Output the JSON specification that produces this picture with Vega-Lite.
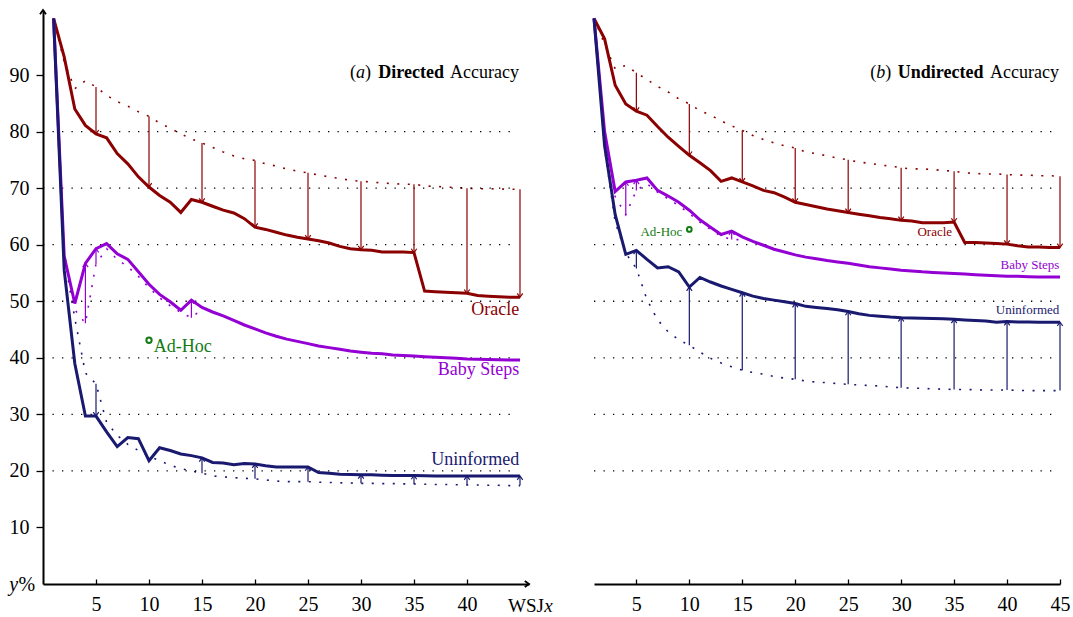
{
  "$schema": "https://vega.github.io/schema/vega-lite/v6.json",
  "padding": {"left": 9, "top": 6, "right": 4, "bottom": 4},
  "spacing": 65,
  "bounds": "flush",
  "config": {
    "view": {"stroke": null},
    "font": "Liberation Serif",
    "text": {"font": "Liberation Serif"},
    "axis": {"domainColor": "black", "domainWidth": 2, "tickColor": "black", "tickWidth": 1.3, "labelColor": "black", "labelFont": "Liberation Serif", "labelFontSize": 20, "grid": false, "labelFlush": false, "labelOverlap": false, "title": null}
  },
  "datasets": {
    "grid": [{"y": 20}, {"y": 30}, {"y": 40}, {"y": 50}, {"y": 60}, {"y": 70}, {"y": 80}],
    "adhocL": [{"x": 10, "y": 43.1}],
    "adhocR": [{"x": 10, "y": 62.7}],
    "lineL": [
      {"s":"Oracle","x":1,"y":100},{"s":"Oracle","x":2,"y":93.2},{"s":"Oracle","x":3,"y":84.0},{"s":"Oracle","x":4,"y":81.1},{"s":"Oracle","x":5,"y":79.6},{"s":"Oracle","x":6,"y":78.9},{"s":"Oracle","x":7,"y":76.1},{"s":"Oracle","x":8,"y":74.3},{"s":"Oracle","x":9,"y":72.0},{"s":"Oracle","x":10,"y":70.2},{"s":"Oracle","x":11,"y":68.7},{"s":"Oracle","x":12,"y":67.5},{"s":"Oracle","x":13,"y":65.7},{"s":"Oracle","x":14,"y":68.0},{"s":"Oracle","x":15,"y":67.5},{"s":"Oracle","x":16,"y":66.8},{"s":"Oracle","x":17,"y":66.1},{"s":"Oracle","x":18,"y":65.6},{"s":"Oracle","x":19,"y":64.6},{"s":"Oracle","x":20,"y":63.1},{"s":"Oracle","x":21,"y":62.7},{"s":"Oracle","x":22,"y":62.2},{"s":"Oracle","x":23,"y":61.7},{"s":"Oracle","x":24,"y":61.3},{"s":"Oracle","x":25,"y":61.0},{"s":"Oracle","x":26,"y":60.7},{"s":"Oracle","x":27,"y":60.3},{"s":"Oracle","x":28,"y":59.7},{"s":"Oracle","x":29,"y":59.3},{"s":"Oracle","x":30,"y":59.1},{"s":"Oracle","x":31,"y":59.0},{"s":"Oracle","x":32,"y":58.7},{"s":"Oracle","x":33,"y":58.7},{"s":"Oracle","x":34,"y":58.7},{"s":"Oracle","x":35,"y":58.6},{"s":"Oracle","x":36,"y":51.8},{"s":"Oracle","x":37,"y":51.7},{"s":"Oracle","x":38,"y":51.6},{"s":"Oracle","x":39,"y":51.5},{"s":"Oracle","x":40,"y":51.4},{"s":"Oracle","x":41,"y":51.0},{"s":"Oracle","x":42,"y":50.9},{"s":"Oracle","x":43,"y":50.8},{"s":"Oracle","x":44,"y":50.7},{"s":"Oracle","x":45,"y":50.7},
      {"s":"Baby Steps","x":1,"y":100},{"s":"Baby Steps","x":2,"y":58.0},{"s":"Baby Steps","x":3,"y":49.6},{"s":"Baby Steps","x":4,"y":56.7},{"s":"Baby Steps","x":5,"y":59.3},{"s":"Baby Steps","x":6,"y":60.2},{"s":"Baby Steps","x":7,"y":58.4},{"s":"Baby Steps","x":8,"y":57.4},{"s":"Baby Steps","x":9,"y":55.2},{"s":"Baby Steps","x":10,"y":53.0},{"s":"Baby Steps","x":11,"y":51.2},{"s":"Baby Steps","x":12,"y":49.9},{"s":"Baby Steps","x":13,"y":48.4},{"s":"Baby Steps","x":14,"y":50.2},{"s":"Baby Steps","x":15,"y":48.9},{"s":"Baby Steps","x":16,"y":48.1},{"s":"Baby Steps","x":17,"y":47.4},{"s":"Baby Steps","x":18,"y":46.6},{"s":"Baby Steps","x":19,"y":45.8},{"s":"Baby Steps","x":20,"y":45.1},{"s":"Baby Steps","x":21,"y":44.4},{"s":"Baby Steps","x":22,"y":43.8},{"s":"Baby Steps","x":23,"y":43.3},{"s":"Baby Steps","x":24,"y":42.9},{"s":"Baby Steps","x":25,"y":42.5},{"s":"Baby Steps","x":26,"y":42.1},{"s":"Baby Steps","x":27,"y":41.8},{"s":"Baby Steps","x":28,"y":41.5},{"s":"Baby Steps","x":29,"y":41.2},{"s":"Baby Steps","x":30,"y":41.0},{"s":"Baby Steps","x":31,"y":40.8},{"s":"Baby Steps","x":32,"y":40.7},{"s":"Baby Steps","x":33,"y":40.5},{"s":"Baby Steps","x":34,"y":40.4},{"s":"Baby Steps","x":35,"y":40.3},{"s":"Baby Steps","x":36,"y":40.2},{"s":"Baby Steps","x":37,"y":40.1},{"s":"Baby Steps","x":38,"y":40.0},{"s":"Baby Steps","x":39,"y":39.9},{"s":"Baby Steps","x":40,"y":39.8},{"s":"Baby Steps","x":41,"y":39.75},{"s":"Baby Steps","x":42,"y":39.7},{"s":"Baby Steps","x":43,"y":39.65},{"s":"Baby Steps","x":44,"y":39.6},{"s":"Baby Steps","x":45,"y":39.6},
      {"s":"Uninformed","x":1,"y":100},{"s":"Uninformed","x":2,"y":55.5},{"s":"Uninformed","x":3,"y":39.0},{"s":"Uninformed","x":4,"y":29.7},{"s":"Uninformed","x":5,"y":29.7},{"s":"Uninformed","x":6,"y":26.9},{"s":"Uninformed","x":7,"y":24.3},{"s":"Uninformed","x":8,"y":25.9},{"s":"Uninformed","x":9,"y":25.7},{"s":"Uninformed","x":10,"y":21.8},{"s":"Uninformed","x":11,"y":24.1},{"s":"Uninformed","x":12,"y":23.6},{"s":"Uninformed","x":13,"y":23.0},{"s":"Uninformed","x":14,"y":22.7},{"s":"Uninformed","x":15,"y":22.3},{"s":"Uninformed","x":16,"y":21.5},{"s":"Uninformed","x":17,"y":21.4},{"s":"Uninformed","x":18,"y":21.1},{"s":"Uninformed","x":19,"y":21.3},{"s":"Uninformed","x":20,"y":21.2},{"s":"Uninformed","x":21,"y":20.9},{"s":"Uninformed","x":22,"y":20.7},{"s":"Uninformed","x":23,"y":20.7},{"s":"Uninformed","x":24,"y":20.7},{"s":"Uninformed","x":25,"y":20.7},{"s":"Uninformed","x":26,"y":19.7},{"s":"Uninformed","x":27,"y":19.6},{"s":"Uninformed","x":28,"y":19.4},{"s":"Uninformed","x":29,"y":19.35},{"s":"Uninformed","x":30,"y":19.3},{"s":"Uninformed","x":31,"y":19.3},{"s":"Uninformed","x":32,"y":19.25},{"s":"Uninformed","x":33,"y":19.2},{"s":"Uninformed","x":34,"y":19.2},{"s":"Uninformed","x":35,"y":19.2},{"s":"Uninformed","x":36,"y":19.15},{"s":"Uninformed","x":37,"y":19.1},{"s":"Uninformed","x":38,"y":19.1},{"s":"Uninformed","x":39,"y":19.1},{"s":"Uninformed","x":40,"y":19.1},{"s":"Uninformed","x":41,"y":19.1},{"s":"Uninformed","x":42,"y":19.1},{"s":"Uninformed","x":43,"y":19.1},{"s":"Uninformed","x":44,"y":19.1},{"s":"Uninformed","x":45,"y":19.1}
    ],
    "dotL": [
      {"s":"Oracle","x":1,"y":100},{"s":"Oracle","x":2,"y":92.3},{"s":"Oracle","x":3,"y":87.6},{"s":"Oracle","x":4,"y":89.0},{"s":"Oracle","x":5,"y":87.9},{"s":"Oracle","x":6,"y":86.4},{"s":"Oracle","x":7,"y":85.3},{"s":"Oracle","x":8,"y":84.5},{"s":"Oracle","x":9,"y":83.5},{"s":"Oracle","x":10,"y":82.7},{"s":"Oracle","x":11,"y":81.5},{"s":"Oracle","x":12,"y":80.6},{"s":"Oracle","x":13,"y":79.6},{"s":"Oracle","x":14,"y":78.7},{"s":"Oracle","x":15,"y":78.0},{"s":"Oracle","x":16,"y":77.2},{"s":"Oracle","x":17,"y":76.4},{"s":"Oracle","x":18,"y":75.7},{"s":"Oracle","x":19,"y":75.2},{"s":"Oracle","x":20,"y":74.9},{"s":"Oracle","x":21,"y":74.3},{"s":"Oracle","x":22,"y":73.9},{"s":"Oracle","x":23,"y":73.4},{"s":"Oracle","x":24,"y":73.0},{"s":"Oracle","x":25,"y":72.7},{"s":"Oracle","x":26,"y":72.3},{"s":"Oracle","x":27,"y":72.0},{"s":"Oracle","x":28,"y":71.7},{"s":"Oracle","x":29,"y":71.4},{"s":"Oracle","x":30,"y":71.2},{"s":"Oracle","x":31,"y":71.1},{"s":"Oracle","x":32,"y":70.9},{"s":"Oracle","x":33,"y":70.8},{"s":"Oracle","x":34,"y":70.7},{"s":"Oracle","x":35,"y":70.7},{"s":"Oracle","x":36,"y":70.4},{"s":"Oracle","x":37,"y":70.3},{"s":"Oracle","x":38,"y":70.2},{"s":"Oracle","x":39,"y":70.1},{"s":"Oracle","x":40,"y":70.0},{"s":"Oracle","x":41,"y":69.9},{"s":"Oracle","x":42,"y":69.9},{"s":"Oracle","x":43,"y":69.85},{"s":"Oracle","x":44,"y":69.8},{"s":"Oracle","x":45,"y":69.8},
      {"s":"Baby Steps","x":1,"y":100},{"s":"Baby Steps","x":2,"y":58.5},{"s":"Baby Steps","x":3,"y":48.5},{"s":"Baby Steps","x":4,"y":46.1},{"s":"Baby Steps","x":5,"y":56.6},{"s":"Baby Steps","x":6,"y":59.3},{"s":"Baby Steps","x":7,"y":57.4},{"s":"Baby Steps","x":8,"y":56.1},{"s":"Baby Steps","x":9,"y":54.4},{"s":"Baby Steps","x":10,"y":52.4},{"s":"Baby Steps","x":11,"y":50.6},{"s":"Baby Steps","x":12,"y":49.2},{"s":"Baby Steps","x":13,"y":48.0},{"s":"Baby Steps","x":14,"y":47.1},{"s":"Baby Steps","x":15,"y":48.6},
      {"s":"Uninformed","x":1,"y":100},{"s":"Uninformed","x":2,"y":58.0},{"s":"Uninformed","x":3,"y":47.0},{"s":"Uninformed","x":4,"y":37.3},{"s":"Uninformed","x":5,"y":35.4},{"s":"Uninformed","x":6,"y":28.6},{"s":"Uninformed","x":7,"y":26.3},{"s":"Uninformed","x":8,"y":24.7},{"s":"Uninformed","x":9,"y":23.6},{"s":"Uninformed","x":10,"y":22.6},{"s":"Uninformed","x":11,"y":21.8},{"s":"Uninformed","x":12,"y":21.0},{"s":"Uninformed","x":13,"y":20.4},{"s":"Uninformed","x":14,"y":20.0},{"s":"Uninformed","x":15,"y":19.6},{"s":"Uninformed","x":16,"y":19.1},{"s":"Uninformed","x":17,"y":18.95},{"s":"Uninformed","x":18,"y":18.8},{"s":"Uninformed","x":19,"y":18.7},{"s":"Uninformed","x":20,"y":18.6},{"s":"Uninformed","x":21,"y":18.4},{"s":"Uninformed","x":22,"y":18.2},{"s":"Uninformed","x":23,"y":18.1},{"s":"Uninformed","x":24,"y":18.1},{"s":"Uninformed","x":25,"y":18.1},{"s":"Uninformed","x":26,"y":18.0},{"s":"Uninformed","x":27,"y":17.95},{"s":"Uninformed","x":28,"y":17.9},{"s":"Uninformed","x":29,"y":17.85},{"s":"Uninformed","x":30,"y":17.8},{"s":"Uninformed","x":31,"y":17.8},{"s":"Uninformed","x":32,"y":17.75},{"s":"Uninformed","x":33,"y":17.75},{"s":"Uninformed","x":34,"y":17.7},{"s":"Uninformed","x":35,"y":17.7},{"s":"Uninformed","x":36,"y":17.65},{"s":"Uninformed","x":37,"y":17.6},{"s":"Uninformed","x":38,"y":17.6},{"s":"Uninformed","x":39,"y":17.55},{"s":"Uninformed","x":40,"y":17.5},{"s":"Uninformed","x":41,"y":17.5},{"s":"Uninformed","x":42,"y":17.45},{"s":"Uninformed","x":43,"y":17.45},{"s":"Uninformed","x":44,"y":17.4},{"s":"Uninformed","x":45,"y":17.4}
    ],
    "arrL": [
      {"s":"Oracle","x":5,"y":87.9,"y2":79.6},{"s":"Oracle","x":10,"y":82.7,"y2":70.2},{"s":"Oracle","x":15,"y":78.0,"y2":67.5},{"s":"Oracle","x":20,"y":74.9,"y2":63.1},{"s":"Oracle","x":25,"y":72.7,"y2":61.0},{"s":"Oracle","x":30,"y":71.2,"y2":59.1},{"s":"Oracle","x":35,"y":70.7,"y2":58.6},{"s":"Oracle","x":40,"y":70.0,"y2":51.4},{"s":"Oracle","x":45,"y":69.8,"y2":50.7},
      {"s":"Baby Steps","x":4,"y":46.1,"y2":56.7},{"s":"Baby Steps","x":5,"y":56.6,"y2":59.3},{"s":"Baby Steps","x":14,"y":47.1,"y2":50.2},
      {"s":"Uninformed","x":5,"y":35.4,"y2":29.7},{"s":"Uninformed","x":15,"y":19.6,"y2":22.3},{"s":"Uninformed","x":20,"y":18.6,"y2":21.2},{"s":"Uninformed","x":25,"y":18.1,"y2":20.7},{"s":"Uninformed","x":30,"y":17.8,"y2":19.3},{"s":"Uninformed","x":35,"y":17.7,"y2":19.2},{"s":"Uninformed","x":40,"y":17.5,"y2":19.1},{"s":"Uninformed","x":45,"y":17.4,"y2":19.1}
    ],
    "lineR": [
      {"s":"Oracle","x":1,"y":100},{"s":"Oracle","x":2,"y":96.4},{"s":"Oracle","x":3,"y":88.2},{"s":"Oracle","x":4,"y":84.9},{"s":"Oracle","x":5,"y":83.6},{"s":"Oracle","x":6,"y":82.9},{"s":"Oracle","x":7,"y":80.9},{"s":"Oracle","x":8,"y":79.0},{"s":"Oracle","x":9,"y":77.4},{"s":"Oracle","x":10,"y":75.8},{"s":"Oracle","x":11,"y":74.5},{"s":"Oracle","x":12,"y":73.1},{"s":"Oracle","x":13,"y":71.2},{"s":"Oracle","x":14,"y":71.8},{"s":"Oracle","x":15,"y":71.1},{"s":"Oracle","x":16,"y":70.4},{"s":"Oracle","x":17,"y":69.6},{"s":"Oracle","x":18,"y":69.2},{"s":"Oracle","x":19,"y":68.4},{"s":"Oracle","x":20,"y":67.5},{"s":"Oracle","x":21,"y":67.1},{"s":"Oracle","x":22,"y":66.7},{"s":"Oracle","x":23,"y":66.3},{"s":"Oracle","x":24,"y":66.0},{"s":"Oracle","x":25,"y":65.7},{"s":"Oracle","x":26,"y":65.4},{"s":"Oracle","x":27,"y":65.1},{"s":"Oracle","x":28,"y":64.8},{"s":"Oracle","x":29,"y":64.6},{"s":"Oracle","x":30,"y":64.3},{"s":"Oracle","x":31,"y":64.2},{"s":"Oracle","x":32,"y":63.9},{"s":"Oracle","x":33,"y":63.9},{"s":"Oracle","x":34,"y":63.9},{"s":"Oracle","x":35,"y":64.0},{"s":"Oracle","x":36,"y":60.4},{"s":"Oracle","x":37,"y":60.4},{"s":"Oracle","x":38,"y":60.3},{"s":"Oracle","x":39,"y":60.2},{"s":"Oracle","x":40,"y":60.1},{"s":"Oracle","x":41,"y":59.8},{"s":"Oracle","x":42,"y":59.6},{"s":"Oracle","x":43,"y":59.6},{"s":"Oracle","x":44,"y":59.5},{"s":"Oracle","x":45,"y":59.5},
      {"s":"Baby Steps","x":1,"y":100},{"s":"Baby Steps","x":2,"y":80.0},{"s":"Baby Steps","x":3,"y":69.4},{"s":"Baby Steps","x":4,"y":71.1},{"s":"Baby Steps","x":5,"y":71.4},{"s":"Baby Steps","x":6,"y":71.8},{"s":"Baby Steps","x":7,"y":69.6},{"s":"Baby Steps","x":8,"y":68.6},{"s":"Baby Steps","x":9,"y":67.5},{"s":"Baby Steps","x":10,"y":66.1},{"s":"Baby Steps","x":11,"y":64.4},{"s":"Baby Steps","x":12,"y":63.1},{"s":"Baby Steps","x":13,"y":61.8},{"s":"Baby Steps","x":14,"y":62.4},{"s":"Baby Steps","x":15,"y":61.4},{"s":"Baby Steps","x":16,"y":60.6},{"s":"Baby Steps","x":17,"y":59.9},{"s":"Baby Steps","x":18,"y":59.2},{"s":"Baby Steps","x":19,"y":58.7},{"s":"Baby Steps","x":20,"y":58.2},{"s":"Baby Steps","x":21,"y":57.8},{"s":"Baby Steps","x":22,"y":57.5},{"s":"Baby Steps","x":23,"y":57.2},{"s":"Baby Steps","x":24,"y":56.95},{"s":"Baby Steps","x":25,"y":56.7},{"s":"Baby Steps","x":26,"y":56.4},{"s":"Baby Steps","x":27,"y":56.1},{"s":"Baby Steps","x":28,"y":55.9},{"s":"Baby Steps","x":29,"y":55.7},{"s":"Baby Steps","x":30,"y":55.5},{"s":"Baby Steps","x":31,"y":55.35},{"s":"Baby Steps","x":32,"y":55.2},{"s":"Baby Steps","x":33,"y":55.1},{"s":"Baby Steps","x":34,"y":55.0},{"s":"Baby Steps","x":35,"y":54.9},{"s":"Baby Steps","x":36,"y":54.8},{"s":"Baby Steps","x":37,"y":54.7},{"s":"Baby Steps","x":38,"y":54.6},{"s":"Baby Steps","x":39,"y":54.5},{"s":"Baby Steps","x":40,"y":54.4},{"s":"Baby Steps","x":41,"y":54.4},{"s":"Baby Steps","x":42,"y":54.35},{"s":"Baby Steps","x":43,"y":54.3},{"s":"Baby Steps","x":44,"y":54.3},{"s":"Baby Steps","x":45,"y":54.3},
      {"s":"Uninformed","x":1,"y":100},{"s":"Uninformed","x":2,"y":77.5},{"s":"Uninformed","x":3,"y":65.3},{"s":"Uninformed","x":4,"y":58.3},{"s":"Uninformed","x":5,"y":59.0},{"s":"Uninformed","x":6,"y":57.4},{"s":"Uninformed","x":7,"y":55.9},{"s":"Uninformed","x":8,"y":56.1},{"s":"Uninformed","x":9,"y":55.2},{"s":"Uninformed","x":10,"y":52.5},{"s":"Uninformed","x":11,"y":54.2},{"s":"Uninformed","x":12,"y":53.4},{"s":"Uninformed","x":13,"y":52.7},{"s":"Uninformed","x":14,"y":52.1},{"s":"Uninformed","x":15,"y":51.5},{"s":"Uninformed","x":16,"y":50.9},{"s":"Uninformed","x":17,"y":50.5},{"s":"Uninformed","x":18,"y":50.2},{"s":"Uninformed","x":19,"y":49.9},{"s":"Uninformed","x":20,"y":49.6},{"s":"Uninformed","x":21,"y":49.1},{"s":"Uninformed","x":22,"y":48.9},{"s":"Uninformed","x":23,"y":48.7},{"s":"Uninformed","x":24,"y":48.5},{"s":"Uninformed","x":25,"y":48.2},{"s":"Uninformed","x":26,"y":47.8},{"s":"Uninformed","x":27,"y":47.5},{"s":"Uninformed","x":28,"y":47.35},{"s":"Uninformed","x":29,"y":47.2},{"s":"Uninformed","x":30,"y":47.1},{"s":"Uninformed","x":31,"y":47.05},{"s":"Uninformed","x":32,"y":47.0},{"s":"Uninformed","x":33,"y":46.95},{"s":"Uninformed","x":34,"y":46.9},{"s":"Uninformed","x":35,"y":46.8},{"s":"Uninformed","x":36,"y":46.7},{"s":"Uninformed","x":37,"y":46.6},{"s":"Uninformed","x":38,"y":46.5},{"s":"Uninformed","x":39,"y":46.3},{"s":"Uninformed","x":40,"y":46.4},{"s":"Uninformed","x":41,"y":46.35},{"s":"Uninformed","x":42,"y":46.35},{"s":"Uninformed","x":43,"y":46.3},{"s":"Uninformed","x":44,"y":46.3},{"s":"Uninformed","x":45,"y":46.3}
    ],
    "dotR": [
      {"s":"Oracle","x":1,"y":100},{"s":"Oracle","x":2,"y":95.5},{"s":"Oracle","x":3,"y":91.1},{"s":"Oracle","x":4,"y":91.7},{"s":"Oracle","x":5,"y":90.4},{"s":"Oracle","x":6,"y":89.2},{"s":"Oracle","x":7,"y":88.0},{"s":"Oracle","x":8,"y":87.0},{"s":"Oracle","x":9,"y":85.8},{"s":"Oracle","x":10,"y":84.9},{"s":"Oracle","x":11,"y":83.7},{"s":"Oracle","x":12,"y":82.9},{"s":"Oracle","x":13,"y":81.9},{"s":"Oracle","x":14,"y":81.0},{"s":"Oracle","x":15,"y":80.2},{"s":"Oracle","x":16,"y":79.3},{"s":"Oracle","x":17,"y":78.6},{"s":"Oracle","x":18,"y":78.0},{"s":"Oracle","x":19,"y":77.5},{"s":"Oracle","x":20,"y":77.1},{"s":"Oracle","x":21,"y":76.4},{"s":"Oracle","x":22,"y":76.1},{"s":"Oracle","x":23,"y":75.7},{"s":"Oracle","x":24,"y":75.3},{"s":"Oracle","x":25,"y":75.0},{"s":"Oracle","x":26,"y":74.6},{"s":"Oracle","x":27,"y":74.4},{"s":"Oracle","x":28,"y":74.1},{"s":"Oracle","x":29,"y":73.9},{"s":"Oracle","x":30,"y":73.6},{"s":"Oracle","x":31,"y":73.4},{"s":"Oracle","x":32,"y":73.4},{"s":"Oracle","x":33,"y":73.3},{"s":"Oracle","x":34,"y":73.1},{"s":"Oracle","x":35,"y":73.0},{"s":"Oracle","x":36,"y":72.7},{"s":"Oracle","x":37,"y":72.6},{"s":"Oracle","x":38,"y":72.5},{"s":"Oracle","x":39,"y":72.5},{"s":"Oracle","x":40,"y":72.4},{"s":"Oracle","x":41,"y":72.3},{"s":"Oracle","x":42,"y":72.3},{"s":"Oracle","x":43,"y":72.2},{"s":"Oracle","x":44,"y":72.2},{"s":"Oracle","x":45,"y":72.1},
      {"s":"Baby Steps","x":1,"y":100},{"s":"Baby Steps","x":2,"y":79.0},{"s":"Baby Steps","x":3,"y":68.5},{"s":"Baby Steps","x":4,"y":65.3},{"s":"Baby Steps","x":5,"y":69.6},{"s":"Baby Steps","x":6,"y":70.8},{"s":"Baby Steps","x":7,"y":69.3},{"s":"Baby Steps","x":8,"y":68.1},{"s":"Baby Steps","x":9,"y":66.9},{"s":"Baby Steps","x":10,"y":65.5},{"s":"Baby Steps","x":11,"y":64.0},{"s":"Baby Steps","x":12,"y":62.7},{"s":"Baby Steps","x":13,"y":61.5},{"s":"Baby Steps","x":14,"y":60.9},{"s":"Baby Steps","x":15,"y":60.9},
      {"s":"Uninformed","x":1,"y":100},{"s":"Uninformed","x":2,"y":77.0},{"s":"Uninformed","x":3,"y":64.0},{"s":"Uninformed","x":4,"y":58.5},{"s":"Uninformed","x":5,"y":55.8},{"s":"Uninformed","x":6,"y":50.3},{"s":"Uninformed","x":7,"y":46.7},{"s":"Uninformed","x":8,"y":44.6},{"s":"Uninformed","x":9,"y":43.2},{"s":"Uninformed","x":10,"y":42.2},{"s":"Uninformed","x":11,"y":41.0},{"s":"Uninformed","x":12,"y":39.9},{"s":"Uninformed","x":13,"y":39.1},{"s":"Uninformed","x":14,"y":38.4},{"s":"Uninformed","x":15,"y":37.8},{"s":"Uninformed","x":16,"y":37.4},{"s":"Uninformed","x":17,"y":37.1},{"s":"Uninformed","x":18,"y":36.7},{"s":"Uninformed","x":19,"y":36.4},{"s":"Uninformed","x":20,"y":36.2},{"s":"Uninformed","x":21,"y":35.9},{"s":"Uninformed","x":22,"y":35.7},{"s":"Uninformed","x":23,"y":35.6},{"s":"Uninformed","x":24,"y":35.45},{"s":"Uninformed","x":25,"y":35.3},{"s":"Uninformed","x":26,"y":35.2},{"s":"Uninformed","x":27,"y":35.1},{"s":"Uninformed","x":28,"y":35.0},{"s":"Uninformed","x":29,"y":34.85},{"s":"Uninformed","x":30,"y":34.7},{"s":"Uninformed","x":31,"y":34.65},{"s":"Uninformed","x":32,"y":34.6},{"s":"Uninformed","x":33,"y":34.5},{"s":"Uninformed","x":34,"y":34.45},{"s":"Uninformed","x":35,"y":34.4},{"s":"Uninformed","x":36,"y":34.4},{"s":"Uninformed","x":37,"y":34.35},{"s":"Uninformed","x":38,"y":34.3},{"s":"Uninformed","x":39,"y":34.3},{"s":"Uninformed","x":40,"y":34.3},{"s":"Uninformed","x":41,"y":34.25},{"s":"Uninformed","x":42,"y":34.2},{"s":"Uninformed","x":43,"y":34.2},{"s":"Uninformed","x":44,"y":34.2},{"s":"Uninformed","x":45,"y":34.2}
    ],
    "arrR": [
      {"s":"Oracle","x":5,"y":90.4,"y2":83.6},{"s":"Oracle","x":10,"y":84.9,"y2":75.8},{"s":"Oracle","x":15,"y":80.2,"y2":71.1},{"s":"Oracle","x":20,"y":77.1,"y2":67.5},{"s":"Oracle","x":25,"y":75.0,"y2":65.7},{"s":"Oracle","x":30,"y":73.6,"y2":64.3},{"s":"Oracle","x":35,"y":73.0,"y2":64.0},{"s":"Oracle","x":40,"y":72.4,"y2":60.1},{"s":"Oracle","x":45,"y":72.1,"y2":59.5},
      {"s":"Baby Steps","x":4,"y":65.3,"y2":71.1},{"s":"Baby Steps","x":5,"y":69.6,"y2":71.4},{"s":"Baby Steps","x":14,"y":60.9,"y2":62.4},
      {"s":"Uninformed","x":5,"y":55.8,"y2":59.0},{"s":"Uninformed","x":10,"y":42.2,"y2":52.5},{"s":"Uninformed","x":15,"y":37.8,"y2":51.5},{"s":"Uninformed","x":20,"y":36.2,"y2":49.6},{"s":"Uninformed","x":25,"y":35.3,"y2":48.2},{"s":"Uninformed","x":30,"y":34.7,"y2":47.1},{"s":"Uninformed","x":35,"y":34.4,"y2":46.8},{"s":"Uninformed","x":40,"y":34.3,"y2":46.4},{"s":"Uninformed","x":45,"y":34.2,"y2":46.3}
    ]
  },
  "hconcat": [
    {
      "width": 486,
      "height": 574,
      "layer": [
        {"data": {"name": "dotL"}, "mark": {"type": "line", "strokeWidth": 1.6, "strokeDash": [2, 8.5]}, "encoding": {
          "x": {"field": "x", "type": "quantitative", "title": null, "scale": {"domain": [0, 45.85], "nice": false, "zero": false}, "axis": {"values": [5, 10, 15, 20, 25, 30, 35, 40], "tickSize": -5, "labelPadding": 15}},
          "y": {"field": "y", "type": "quantitative", "title": null, "scale": {"domain": [0, 101.5], "nice": false, "zero": false}, "axis": {"values": [10, 20, 30, 40, 50, 60, 70, 80, 90], "tickSize": 7, "labelPadding": 7}},
          "color": {"field": "s", "type": "nominal", "scale": {"domain": ["Oracle", "Baby Steps", "Uninformed"], "range": ["#8b0000", "#9400d3", "#191970"]}, "legend": null}}},
        {"data": {"name": "grid"}, "mark": {"type": "rule", "strokeWidth": 1.3, "strokeDash": [1.3, 8.2], "color": "black"}, "encoding": {"x": {"datum": 0}, "x2": {"datum": 44.5}, "y": {"field": "y", "type": "quantitative", "title": null}}},
        {"data": {"name": "lineL"}, "mark": {"type": "line", "strokeWidth": 3}, "encoding": {"x": {"field": "x", "type": "quantitative", "title": null}, "y": {"field": "y", "type": "quantitative", "title": null}, "color": {"field": "s", "type": "nominal", "legend": null}}},
        {"data": {"name": "arrL"}, "mark": {"type": "rule", "strokeWidth": 1.2}, "encoding": {"x": {"field": "x", "type": "quantitative", "title": null}, "y": {"field": "y", "type": "quantitative", "title": null}, "y2": {"field": "y2"}, "color": {"field": "s", "type": "nominal", "legend": null}}},
        {"data": {"name": "arrL"}, "transform": [{"filter": "datum.y2 > datum.y"}], "mark": {"type": "point", "shape": "M-1,1.4L0,0L1,1.4", "filled": false, "strokeWidth": 1.2, "size": 30, "opacity": 1}, "encoding": {"x": {"field": "x", "type": "quantitative", "title": null}, "y": {"field": "y2", "type": "quantitative", "title": null}, "color": {"field": "s", "type": "nominal", "legend": null}}},
        {"data": {"name": "arrL"}, "transform": [{"filter": "datum.y2 < datum.y"}], "mark": {"type": "point", "shape": "M-1,-1.4L0,0L1,-1.4", "filled": false, "strokeWidth": 1.2, "size": 30, "opacity": 1}, "encoding": {"x": {"field": "x", "type": "quantitative", "title": null}, "y": {"field": "y2", "type": "quantitative", "title": null}, "color": {"field": "s", "type": "nominal", "legend": null}}},
        {"data": {"name": "adhocL"}, "mark": {"type": "point", "shape": "circle", "filled": false, "size": 28, "strokeWidth": 2, "color": "#137a13", "opacity": 1}, "encoding": {"x": {"field": "x", "type": "quantitative", "title": null}, "y": {"field": "y", "type": "quantitative", "title": null}}},
        {"data": {"values": [{}]}, "mark": {"type": "point", "shape": "M-1.4,-1L0,0L-1.4,1", "filled": false, "strokeWidth": 1.8, "size": 36, "color": "black", "opacity": 1}, "encoding": {"x": {"datum": 45.85}, "y": {"datum": 0}}},
        {"data": {"values": [{}]}, "mark": {"type": "point", "shape": "M-1,1.4L0,0L1,1.4", "filled": false, "strokeWidth": 1.8, "size": 36, "color": "black", "opacity": 1}, "encoding": {"x": {"datum": 0}, "y": {"datum": 101.5}}},
        {"data": {"values": [{}]}, "mark": {"type": "text", "text": "Oracle", "align": "right", "baseline": "alphabetic", "fontSize": 18, "color": "#8b0000"}, "encoding": {"x": {"datum": 44.93}, "y": {"datum": 47.6}}},
        {"data": {"values": [{}]}, "mark": {"type": "text", "text": "Baby Steps", "align": "right", "baseline": "alphabetic", "fontSize": 18, "color": "#9400d3"}, "encoding": {"x": {"datum": 44.93}, "y": {"datum": 36.9}}},
        {"data": {"values": [{}]}, "mark": {"type": "text", "text": "Uninformed", "align": "right", "baseline": "alphabetic", "fontSize": 18, "color": "#191970"}, "encoding": {"x": {"datum": 44.93}, "y": {"datum": 21.1}}},
        {"data": {"values": [{}]}, "mark": {"type": "text", "text": "Ad-Hoc", "align": "left", "baseline": "alphabetic", "fontSize": 18, "color": "#137a13"}, "encoding": {"x": {"datum": 10.44}, "y": {"datum": 41.0}}},
        {"data": {"values": [{}]}, "mark": {"type": "text", "text": "Accuracy", "align": "right", "baseline": "alphabetic", "fontSize": 18, "color": "black"}, "encoding": {"x": {"datum": 44.9}, "y": {"datum": 89.4}}},
        {"data": {"values": [{}]}, "mark": {"type": "text", "text": "Directed", "align": "right", "baseline": "alphabetic", "fontSize": 18, "fontWeight": "bold", "color": "black"}, "encoding": {"x": {"datum": 37.83}, "y": {"datum": 89.4}}},
        {"data": {"values": [{}]}, "mark": {"type": "text", "text": ")", "align": "right", "baseline": "alphabetic", "fontSize": 18, "color": "black"}, "encoding": {"x": {"datum": 30.94}, "y": {"datum": 89.4}}},
        {"data": {"values": [{}]}, "mark": {"type": "text", "text": "a", "align": "right", "baseline": "alphabetic", "fontSize": 18, "fontStyle": "italic", "color": "black"}, "encoding": {"x": {"datum": 30.38}, "y": {"datum": 89.4}}},
        {"data": {"values": [{}]}, "mark": {"type": "text", "text": "(", "align": "right", "baseline": "alphabetic", "fontSize": 18, "color": "black"}, "encoding": {"x": {"datum": 29.53}, "y": {"datum": 89.4}}},
        {"data": {"values": [{}]}, "mark": {"type": "text", "text": "WSJ", "align": "right", "baseline": "alphabetic", "fontSize": 19, "color": "black"}, "encoding": {"x": {"datum": 47.26}, "y": {"datum": -5.0}}},
        {"data": {"values": [{}]}, "mark": {"type": "text", "text": "x", "align": "left", "baseline": "alphabetic", "fontSize": 19, "fontStyle": "italic", "color": "black"}, "encoding": {"x": {"datum": 47.3}, "y": {"datum": -5.0}}},
        {"data": {"values": [{}]}, "mark": {"type": "text", "text": "y", "align": "right", "baseline": "alphabetic", "fontSize": 20, "fontStyle": "italic", "color": "black"}, "encoding": {"x": {"datum": -2.34}, "y": {"datum": -1.24}}},
        {"data": {"values": [{}]}, "mark": {"type": "text", "text": "%", "align": "left", "baseline": "alphabetic", "fontSize": 20, "color": "black"}, "encoding": {"x": {"datum": -2.3}, "y": {"datum": -1.24}}}
      ]
    },
    {
      "width": 466,
      "height": 574,
      "layer": [
        {"data": {"name": "dotR"}, "mark": {"type": "line", "strokeWidth": 1.6, "strokeDash": [2, 8.5]}, "encoding": {
          "x": {"field": "x", "type": "quantitative", "title": null, "scale": {"domain": [1, 45], "nice": false, "zero": false}, "axis": {"values": [5, 10, 15, 20, 25, 30, 35, 40, 45], "tickSize": -5, "labelPadding": 15}},
          "y": {"field": "y", "type": "quantitative", "title": null, "scale": {"domain": [0, 101.5], "nice": false, "zero": false}, "axis": null},
          "color": {"field": "s", "type": "nominal", "scale": {"domain": ["Oracle", "Baby Steps", "Uninformed"], "range": ["#8b0000", "#9400d3", "#191970"]}, "legend": null}}},
        {"data": {"name": "grid"}, "mark": {"type": "rule", "strokeWidth": 1.3, "strokeDash": [1.3, 8.2], "color": "black"}, "encoding": {"x": {"datum": 1}, "x2": {"datum": 44.5}, "y": {"field": "y", "type": "quantitative", "axis": null}}},
        {"data": {"name": "lineR"}, "mark": {"type": "line", "strokeWidth": 3}, "encoding": {"x": {"field": "x", "type": "quantitative", "title": null}, "y": {"field": "y", "type": "quantitative", "axis": null}, "color": {"field": "s", "type": "nominal", "legend": null}}},
        {"data": {"name": "arrR"}, "mark": {"type": "rule", "strokeWidth": 1.2}, "encoding": {"x": {"field": "x", "type": "quantitative", "title": null}, "y": {"field": "y", "type": "quantitative", "axis": null}, "y2": {"field": "y2"}, "color": {"field": "s", "type": "nominal", "legend": null}}},
        {"data": {"name": "arrR"}, "transform": [{"filter": "datum.y2 > datum.y"}], "mark": {"type": "point", "shape": "M-1,1.4L0,0L1,1.4", "filled": false, "strokeWidth": 1.2, "size": 30, "opacity": 1}, "encoding": {"x": {"field": "x", "type": "quantitative", "title": null}, "y": {"field": "y2", "type": "quantitative", "axis": null}, "color": {"field": "s", "type": "nominal", "legend": null}}},
        {"data": {"name": "arrR"}, "transform": [{"filter": "datum.y2 < datum.y"}], "mark": {"type": "point", "shape": "M-1,-1.4L0,0L1,-1.4", "filled": false, "strokeWidth": 1.2, "size": 30, "opacity": 1}, "encoding": {"x": {"field": "x", "type": "quantitative", "title": null}, "y": {"field": "y2", "type": "quantitative", "axis": null}, "color": {"field": "s", "type": "nominal", "legend": null}}},
        {"data": {"name": "adhocR"}, "mark": {"type": "point", "shape": "circle", "filled": false, "size": 22, "strokeWidth": 2, "color": "#137a13", "opacity": 1}, "encoding": {"x": {"field": "x", "type": "quantitative", "title": null}, "y": {"field": "y", "type": "quantitative", "axis": null}}},
        {"data": {"values": [{}]}, "mark": {"type": "text", "text": "Oracle", "align": "right", "baseline": "alphabetic", "fontSize": 13, "color": "#8b0000"}, "encoding": {"x": {"datum": 34.81}, "y": {"datum": 61.6, "axis": null}}},
        {"data": {"values": [{}]}, "mark": {"type": "text", "text": "Baby Steps", "align": "right", "baseline": "alphabetic", "fontSize": 13, "color": "#9400d3"}, "encoding": {"x": {"datum": 44.94}, "y": {"datum": 55.7, "axis": null}}},
        {"data": {"values": [{}]}, "mark": {"type": "text", "text": "Uninformed", "align": "right", "baseline": "alphabetic", "fontSize": 13, "color": "#191970"}, "encoding": {"x": {"datum": 44.94}, "y": {"datum": 47.8, "axis": null}}},
        {"data": {"values": [{}]}, "mark": {"type": "text", "text": "Ad-Hoc", "align": "right", "baseline": "alphabetic", "fontSize": 13, "color": "#137a13"}, "encoding": {"x": {"datum": 9.34}, "y": {"datum": 61.6, "axis": null}}},
        {"data": {"values": [{}]}, "mark": {"type": "text", "text": "Accuracy", "align": "right", "baseline": "alphabetic", "fontSize": 18, "color": "black"}, "encoding": {"x": {"datum": 44.9}, "y": {"datum": 89.4, "axis": null}}},
        {"data": {"values": [{}]}, "mark": {"type": "text", "text": "Undirected", "align": "right", "baseline": "alphabetic", "fontSize": 18, "fontWeight": "bold", "color": "black"}, "encoding": {"x": {"datum": 37.77}, "y": {"datum": 89.4, "axis": null}}},
        {"data": {"values": [{}]}, "mark": {"type": "text", "text": ")", "align": "right", "baseline": "alphabetic", "fontSize": 18, "color": "black"}, "encoding": {"x": {"datum": 29.06}, "y": {"datum": 89.4, "axis": null}}},
        {"data": {"values": [{}]}, "mark": {"type": "text", "text": "b", "align": "right", "baseline": "alphabetic", "fontSize": 18, "fontStyle": "italic", "color": "black"}, "encoding": {"x": {"datum": 28.49}, "y": {"datum": 89.4, "axis": null}}},
        {"data": {"values": [{}]}, "mark": {"type": "text", "text": "(", "align": "right", "baseline": "alphabetic", "fontSize": 18, "color": "black"}, "encoding": {"x": {"datum": 27.64}, "y": {"datum": 89.4, "axis": null}}}
      ]
    }
  ]
}
